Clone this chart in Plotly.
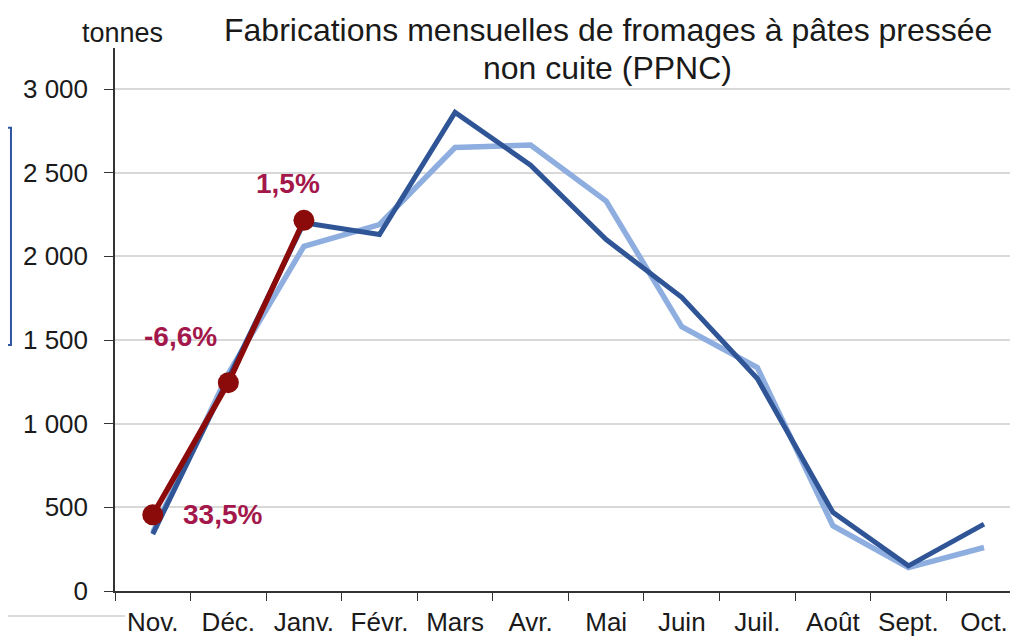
import plotly.graph_objects as go

months = ["Nov.", "Déc.", "Janv.", "Févr.", "Mars", "Avr.", "Mai", "Juin",
          "Juil.", "Août", "Sept.", "Oct."]

# two previous campaigns
prev_light = [350, 1300, 2060, 2190, 2650, 2665, 2330, 1580, 1335, 390, 140, 260]
prev_dark = [340, 1270, 2200, 2130, 2860, 2545, 2100, 1755, 1270, 470, 150, 400]

# current campaign
current = [455, 1245, 2215]
current_labels = ["33,5%", "-6,6%", "1,5%"]

y_ticks = [0, 500, 1000, 1500, 2000, 2500, 3000]
y_ticktext = ["0", "500", "1 000", "1 500", "2 000", "2 500", "3 000"]

FONT = "Liberation Sans, Arial, sans-serif"
RED_TXT = "#A3174B"

fig = go.Figure()

fig.add_trace(go.Scatter(x=months, y=prev_light, mode="lines",
                         line=dict(color="#8FAEE0", width=5.5), showlegend=False))
fig.add_trace(go.Scatter(x=months, y=prev_dark, mode="lines",
                         line=dict(color="#2F5597", width=5), showlegend=False))
fig.add_trace(go.Scatter(x=months[:3], y=current, mode="lines+markers",
                         line=dict(color="#8B0A0A", width=5.5),
                         marker=dict(color="#8B0A0A", size=21), showlegend=False))

# percentage labels
offsets = [(28, 0, "left", "middle"), (-48, -46, "center", "middle"), (-16, -37, "center", "middle")]
for m, v, t, (ax, ay, xa, ya) in zip(months, current, current_labels, offsets):
    fig.add_annotation(x=m, y=v, text="<b>" + t + "</b>", showarrow=True, arrowcolor="rgba(0,0,0,0)",
                       ax=ax, ay=ay, xanchor=xa, yanchor=ya,
                       font=dict(family=FONT, size=28, color=RED_TXT))

# title, two lines placed separately
for line, shift in [("Fabrications mensuelles de fromages à pâtes pressée", 18),
                    ("non cuite (PPNC)", -20)]:
    fig.add_annotation(x=0.5, xref="paper", xshift=41, y=1.0, yref="paper", yshift=shift,
                       text=line, showarrow=False, yanchor="middle",
                       font=dict(family=FONT, size=32, color="#1a1a1a"))
fig.add_annotation(x=0, xref="paper", xshift=50, y=1.0, yref="paper", yshift=15,
                   text="tonnes", showarrow=False, xanchor="right", yanchor="middle",
                   font=dict(family=FONT, size=27, color="#1a1a1a"))

# stray frame bits visible at the edges of the original picture
fig.add_shape(type="rect", xref="paper", yref="paper", x0=-0.14, x1=-0.1152,
              y0=0.453, y1=0.853, line=dict(color="#2F55A0", width=2))
fig.add_shape(type="line", xref="paper", yref="paper", x0=-0.13, x1=0.011,
              y0=-0.046, y1=-0.046, line=dict(color="#D0D0D0", width=1.5))

fig.update_xaxes(range=[-0.5, 11.45], showline=True, linecolor="#333333", linewidth=1.5,
                 ticks="outside", tickson="boundaries", ticklen=8, tickcolor="#333333",
                 showgrid=False, automargin=False, ticklabelstandoff=7,
                 tickfont=dict(family=FONT, size=26, color="#1a1a1a"))
fig.update_yaxes(range=[0, 3245], tickvals=y_ticks, ticktext=y_ticktext,
                 showline=True, linecolor="#333333", linewidth=1.5,
                 ticks="outside", ticklen=9, tickcolor="#333333",
                 showgrid=True, gridcolor="#D9D9D9", gridwidth=1.5, zeroline=False,
                 ticklabelstandoff=11, automargin=False,
                 tickfont=dict(family=FONT, size=26, color="#1a1a1a"))

# page body adds 8px offset, margins compensate
fig.update_layout(width=1018, height=637, template="plotly_white",
                  plot_bgcolor="white", paper_bgcolor="white",
                  margin=dict(l=107, r=8, t=40, b=54))

fig.write_html("out.html")
